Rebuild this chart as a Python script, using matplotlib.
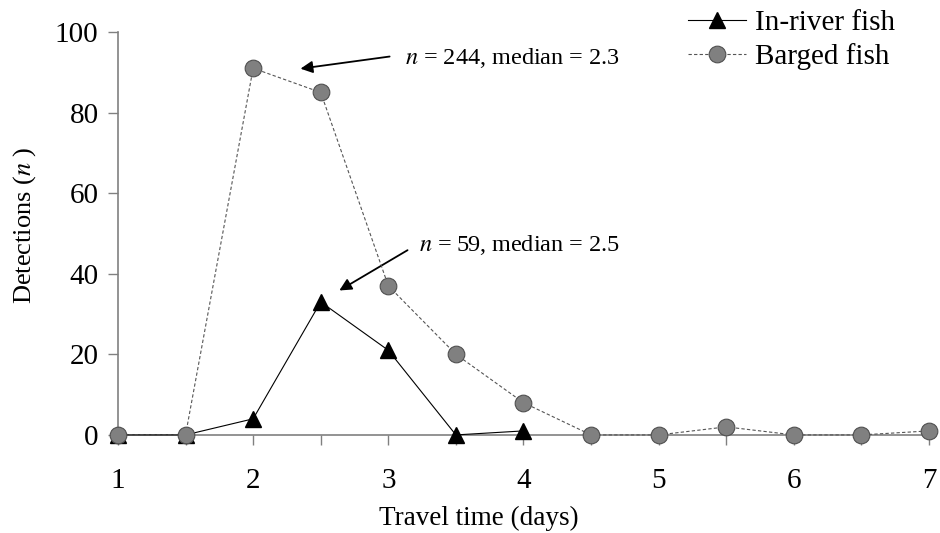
import matplotlib.pyplot as plt

# Данi
travel_days = [1, 1.5, 2, 2.5, 3, 3.5, 4, 4.5, 5, 5.5, 6, 6.5, 7]
inriver_days = [1, 1.5, 2, 2.5, 3, 3.5, 4]
inriver_n = [0, 0, 4, 33, 21, 0, 1]
barged_n = [0, 0, 91, 85, 37, 20, 8, 0, 0, 2, 0, 0, 1]
x_ticks = [1, 1.5, 2, 2.5, 3, 3.5, 4, 4.5, 5, 5.5, 6, 6.5, 7]
x_labels = ['1', '', '2', '', '3', '', '4', '', '5', '', '6', '', '7']
y_ticks = [0, 20, 40, 60, 80, 100]

plt.rcParams['font.family'] = ['Liberation Serif', 'DejaVu Serif']
plt.rcParams['mathtext.fontset'] = 'stix'

fig = plt.figure(figsize=(9.4, 5.33), dpi=100)
ax = fig.add_axes([0.1255, 0.184, 0.8628, 0.756])

ax.plot(inriver_days, inriver_n, color='black', lw=0.8, marker='^',
        markersize=12, markerfacecolor='black', markeredgecolor='black',
        clip_on=False, zorder=3, label='In-river fish')
ax.plot(travel_days, barged_n, color='#555555', lw=0.8, ls=(0, (3, 2)),
        marker='o', markersize=12, markerfacecolor='#808080',
        markeredgecolor='#505050', markeredgewidth=0.8,
        clip_on=False, zorder=4, label='Barged fish')

ax.set_xlim(1, 7)
ax.set_ylim(0, 100)
ax.set_xticks(x_ticks)
ax.set_xticklabels(x_labels)
ax.set_yticks(y_ticks)

for s in ['top', 'right']:
    ax.spines[s].set_visible(False)
for s in ['left', 'bottom']:
    ax.spines[s].set_color('#808080')
    ax.spines[s].set_linewidth(1.2)
ax.tick_params(axis='both', colors='#808080', labelcolor='black', labelsize=21,
               length=7, width=1)
ax.tick_params(axis='x', pad=17)
ax.tick_params(axis='y', pad=7)

ax.set_xlabel('Travel time (days)', fontsize=19.5)
ax.xaxis.label.set_va('center')
ax.xaxis.set_label_coords(0.445, -0.206)
ax.set_ylabel('Detections ($n$ )', fontsize=19)
ax.yaxis.label.set_va('center')
ax.yaxis.set_label_coords(-0.115, 0.52)

ax.annotate('', xy=(2.33, 90.8), xytext=(3.03, 94.0),
            arrowprops=dict(arrowstyle='-|>', color='black', lw=1.3,
                            mutation_scale=18))
ax.text(3.12, 93.5, '$n$ = 244, median = 2.3', fontsize=17.5, va='center')
ax.annotate('', xy=(2.62, 35.5), xytext=(3.16, 46.2),
            arrowprops=dict(arrowstyle='-|>', color='black', lw=1.3,
                            mutation_scale=18))
ax.text(3.23, 47.1, '$n$ = 59, median = 2.5', fontsize=17.5, va='center')

ax.legend(loc='upper right', bbox_to_anchor=(0.952, 0.982),
          bbox_transform=fig.transFigure, frameon=False, fontsize=21,
          handlelength=2.0, handletextpad=0.3, labelspacing=0.25,
          borderpad=0, borderaxespad=0)

fig.savefig('out.png', dpi=100)
